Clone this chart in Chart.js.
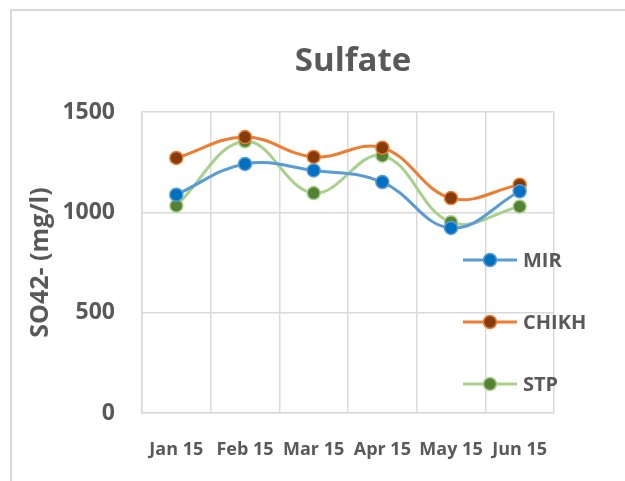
<!DOCTYPE html>
<html>
<head>
  <title>index</title>
  <script src="https://cdn.jsdelivr.net/npm/chart.js"></script>
  <style>
    html, body { margin: 0; padding: 0; background: #fff; overflow: hidden; }
    #wrap { position: relative; width: 625px; height: 481px; }
    #frame { position: absolute; left: 10px; top: 9px; width: 700px; height: 600px; border: 2px solid #d9d9d9; }
    #chart { position: absolute; left: 0; top: 0; }
  </style>
</head>
<body>
  <div id="wrap">
    <div id="frame"></div>
    <canvas id="chart" width="625" height="481"></canvas>
  </div>

  <script>
    const months = ['Jan 15', 'Feb 15', 'Mar 15', 'Apr 15', 'May 15', 'Jun 15'];
    const mir = [1088, 1241, 1209, 1151, 922, 1105];
    const chikh = [1271, 1375, 1276, 1322, 1071, 1138];
    const stp = [1033, 1354, 1096, 1282, 951, 1029];
    const yTicks = [0, 500, 1000, 1500];

    const textColor = '#595959';
    const gridColor = '#d9d9d9';
    const fontFamily = '"Open Sans", Lato, sans-serif';

    function series(label, data, line, fill) {
      return {
        label: label,
        data: data,
        borderColor: line,
        backgroundColor: fill,
        pointBackgroundColor: fill,
        pointBorderColor: line,
        pointBorderWidth: 1.5,
        pointRadius: 6.5,
        borderWidth: 3,
        tension: 0.4
      };
    }

    // title and legend drawn by hand: the original centres the title
    // over the plot and puts the legend on top of it
    const overlay = {
      id: 'overlay',
      afterDatasetsDraw(chart) {
        const ctx = chart.ctx;
        const area = chart.chartArea;
        ctx.save();
        ctx.fillStyle = textColor;
        ctx.font = 'bold 33px ' + fontFamily;
        ctx.textAlign = 'center';
        ctx.textBaseline = 'middle';
        ctx.fillText('Sulfate', (area.left + area.right) / 2 + 5, 62);

        const rows = [260, 322, 384];
        chart.data.datasets.forEach((ds, i) => {
          const y = rows[i];
          ctx.strokeStyle = ds.borderColor;
          ctx.lineWidth = 3;
          ctx.beginPath();
          ctx.moveTo(463, y);
          ctx.lineTo(517, y);
          ctx.stroke();
          ctx.beginPath();
          ctx.arc(490, y, 6.5, 0, Math.PI * 2);
          ctx.fillStyle = ds.pointBackgroundColor;
          ctx.fill();
          ctx.lineWidth = 1.5;
          ctx.stroke();
          ctx.fillStyle = textColor;
          ctx.font = 'bold 20px ' + fontFamily;
          ctx.textAlign = 'left';
          ctx.textBaseline = 'middle';
          ctx.fillText(ds.label, 523, y + 1);
        });
        ctx.restore();
      }
    };

    new Chart(document.getElementById('chart'), {
      type: 'line',
      data: {
        labels: months,
        datasets: [
          series('MIR', mir, '#5b9bd5', '#0070c0'),
          series('CHIKH', chikh, '#ed7d31', '#843c0c'),
          series('STP', stp, '#a9d18e', '#548235')
        ]
      },
      plugins: [overlay],
      options: {
        responsive: false,
        animation: false,
        layout: { padding: { top: 112, right: 71, bottom: 0, left: 0 } },
        plugins: {
          legend: { display: false },
          tooltip: { enabled: false }
        },
        scales: {
          x: {
            offset: true,
            grid: { offset: true, color: gridColor, lineWidth: 1.5, drawTicks: false },
            border: { color: gridColor, width: 1.5 },
            ticks: {
              color: textColor,
              padding: 26,
              maxRotation: 0,
              font: { family: fontFamily, size: 18, weight: 'bold' }
            },
            afterFit(scale) { scale.height = 68; }
          },
          y: {
            min: 0,
            max: 1500,
            afterBuildTicks(scale) { scale.ticks = yTicks.map(v => ({ value: v })); },
            grid: { color: gridColor, lineWidth: 1.5, drawTicks: false },
            border: { color: gridColor, width: 1.5 },
            ticks: {
              color: textColor,
              padding: 27,
              font: { family: fontFamily, size: 23, weight: 'bold' },
              callback: (v) => String(v)
            },
            title: {
              display: true,
              text: 'SO42- (mg/l)',
              color: textColor,
              font: { family: fontFamily, size: 25, weight: 'bold' },
              padding: { top: 26, bottom: 0 }
            },
            afterFit(scale) { scale.width = 142; }
          }
        }
      }
    });
  </script>
</body>
</html>
